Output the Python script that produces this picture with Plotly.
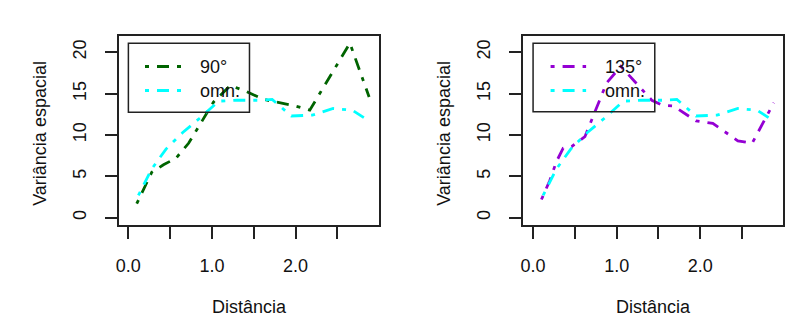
import plotly.graph_objects as go

# ---- data ----
x_90 = [0.10, 0.28, 0.42, 0.57, 0.72, 1.02, 1.22, 1.40, 1.62, 1.85, 2.00, 2.17, 2.65, 2.88]
y_90 = [1.7, 5.5, 6.4, 7.2, 9.0, 14.0, 16.0, 15.3, 14.3, 13.8, 13.5, 13.0, 21.1, 14.6]

x_135 = [0.10, 0.20, 0.28, 0.36, 0.46, 0.62, 0.88, 1.05, 1.42, 1.55, 1.68, 1.95, 2.15, 2.45, 2.62, 2.88]
y_135 = [2.2, 4.5, 6.8, 8.4, 8.6, 9.8, 16.3, 18.3, 14.2, 13.6, 13.5, 11.7, 11.4, 9.3, 9.0, 13.9]

x_omn = [0.12, 0.28, 0.45, 0.65, 0.85, 1.08, 1.30, 1.55, 1.72, 1.95, 2.20, 2.45, 2.68, 2.88]
y_omn = [2.7, 5.9, 8.3, 10.3, 12.0, 14.1, 14.2, 14.2, 14.3, 12.3, 12.4, 13.2, 13.0, 11.7]

x_tickvals = [0, 0.5, 1.0, 1.5, 2.0, 2.5]
x_ticktext = ["0.0", "", "1.0", "", "2.0", ""]
y_tickvals = [0, 5, 10, 15, 20]
y_ticktext = ["0", "5", "10", "15", "20"]

legend_left = ["90°", "omn."]
legend_right = ["135°", "omn."]
x_title = "Distância"
y_title = "Variância espacial"

# ---- styling ----
W, H = 811, 333
FONT = "Liberation Sans, Arial, sans-serif"
FS = 18
GREEN = "#006400"
CYAN = "#00FFFF"
PURPLE = "#9400D3"
DASH = "4px,8px,12px,8px"
LW = 2.8


def px(xp):
    return xp / W


def py(yp):
    return 1 - yp / H


fig = go.Figure()

fig.add_trace(go.Scatter(x=x_90, y=y_90, mode="lines", xaxis="x", yaxis="y",
                         line=dict(color=GREEN, width=LW, dash=DASH), showlegend=False))
fig.add_trace(go.Scatter(x=x_omn, y=y_omn, mode="lines", xaxis="x", yaxis="y",
                         line=dict(color=CYAN, width=LW, dash=DASH), showlegend=False))
fig.add_trace(go.Scatter(x=x_135, y=y_135, mode="lines", xaxis="x2", yaxis="y2",
                         line=dict(color=PURPLE, width=LW, dash=DASH), showlegend=False))
fig.add_trace(go.Scatter(x=x_omn, y=y_omn, mode="lines", xaxis="x2", yaxis="y2",
                         line=dict(color=CYAN, width=LW, dash=DASH), showlegend=False))

ydom = [py(225), py(36)]
axis_common = dict(showline=True, mirror=True, linecolor="#222", linewidth=2,
                   ticks="outside", ticklen=12, tickwidth=1.5, tickcolor="#222",
                   showgrid=False, zeroline=False,
                   tickfont=dict(family=FONT, size=FS, color="#111"))

fig.update_layout(
    width=W, height=H,
    margin=dict(l=0, r=0, t=0, b=0),
    paper_bgcolor="white", plot_bgcolor="white",
    xaxis=dict(domain=[px(116), px(377)], range=[-0.107, 3.0], anchor="y",
               tickvals=x_tickvals, ticktext=x_ticktext, ticklabelstandoff=11, **axis_common),
    yaxis=dict(domain=ydom, range=[-0.88, 21.97], anchor="x",
               tickvals=y_tickvals, ticktext=y_ticktext, tickangle=-90,
               ticklabelstandoff=12, **axis_common),
    xaxis2=dict(domain=[px(521.7), px(783.3)], range=[-0.119, 2.995], anchor="y2",
                tickvals=x_tickvals, ticktext=x_ticktext, ticklabelstandoff=11, **axis_common),
    yaxis2=dict(domain=ydom, range=[-0.88, 21.97], anchor="x2",
                tickvals=y_tickvals, ticktext=y_ticktext, tickangle=-90,
                ticklabelstandoff=12, **axis_common),
)

annotations = []
shapes = []

# axis titles
for cx, cyl in [((116 + 377) / 2, 36), ((521.7 + 783.3) / 2, 442)]:
    annotations.append(dict(x=px(cx), y=py(307), xref="paper", yref="paper",
                            text=x_title, showarrow=False, xanchor="center", yanchor="middle",
                            font=dict(family=FONT, size=FS, color="#111")))
    annotations.append(dict(x=px(cyl), y=py(133), xref="paper", yref="paper",
                            text=y_title, showarrow=False, textangle=-90,
                            xanchor="center", yanchor="middle",
                            font=dict(family=FONT, size=FS, color="#111")))

# legends (drawn manually, R style)
legends = [
    dict(box=(125, 43.3, 246.7, 112.3), line=(141.7, 178.3), text_x=195,
         labels=legend_left, colors=[GREEN, CYAN]),
    dict(box=(531.7, 43.3, 654, 111.7), line=(549.3, 585), text_x=602,
         labels=legend_right, colors=[PURPLE, CYAN]),
]
rows_y = [66.5, 90.5]
for lg in legends:
    x0, y0, x1, y1 = lg["box"]
    shapes.append(dict(type="rect", xref="paper", yref="paper",
                       x0=px(x0), x1=px(x1), y0=py(y1), y1=py(y0),
                       line=dict(color="#222", width=1.5), fillcolor="rgba(0,0,0,0)"))
    for ry, lab, col in zip(rows_y, lg["labels"], lg["colors"]):
        shapes.append(dict(type="line", xref="paper", yref="paper",
                           x0=px(lg["line"][0]), x1=px(lg["line"][1]), y0=py(ry), y1=py(ry),
                           line=dict(color=col, width=LW, dash=DASH)))
        annotations.append(dict(x=px(lg["text_x"]), y=py(ry), xref="paper", yref="paper",
                                text=lab, showarrow=False, xanchor="left", yanchor="middle",
                                font=dict(family=FONT, size=FS, color="#111")))

fig.update_layout(annotations=annotations, shapes=shapes)

fig.write_html("out.html")
